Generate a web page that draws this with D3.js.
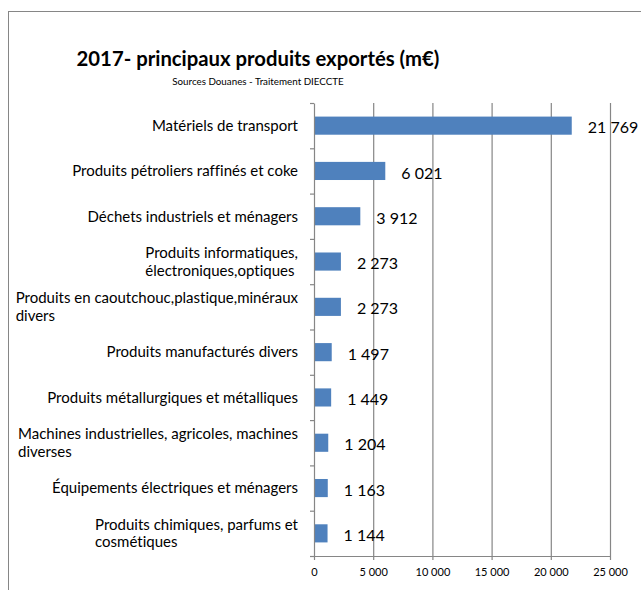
<!DOCTYPE html>
<html>
<head>
<meta charset="utf-8">
<script src="https://cdn.jsdelivr.net/npm/d3@7"></script>
<style>
  body { margin: 0; background: #fff; }
  text { font-family: Lato, "Open Sans", sans-serif; fill: #000; font-variant-ligatures: none; }
</style>
</head>
<body>
<script>
// categories (line breaks as in the original chart)
const categories = [
  "Matériels de transport",
  "Produits pétroliers raffinés et coke",
  "Déchets industriels et ménagers",
  "Produits informatiques,\nélectroniques,optiques",
  "Produits en caoutchouc,plastique,minéraux\ndivers",
  "Produits manufacturés divers",
  "Produits métallurgiques et métalliques",
  "Machines industrielles, agricoles, machines\ndiverses",
  "Équipements électriques et ménagers",
  "Produits chimiques, parfums et\ncosmétiques"
];
// exports in m€
const values = [21769, 6021, 3912, 2273, 2273, 1497, 1449, 1204, 1163, 1144];
const xTicks = [0, 5000, 10000, 15000, 20000, 25000];

const title = "2017- principaux produits exportés (m€)";
const subtitle = "Sources Douanes - Traitement DIECCTE";

const data = categories.map((c, i) => ({name: c, value: values[i]}));

// french number format: 21 769
const fr = d3.formatLocale({decimal: ",", thousands: " ", grouping: [3], currency: ["", " €"]});
const fmt = fr.format(",d");

const W = 641, H = 590;
const plot = {left: 314, right: 610, top: 103, bottom: 556};
const gray = "#868686";

const svg = d3.select("body").append("svg")
    .attr("width", W)
    .attr("height", H);

// chart border (cropped on the right and bottom)
svg.append("rect")
    .attr("x", 8.5).attr("y", 11.5)
    .attr("width", 700).attr("height", 700)
    .attr("fill", "none")
    .attr("stroke", gray);

svg.append("text")
    .attr("x", 258).attr("y", 66)
    .attr("text-anchor", "middle")
    .style("font-size", "20.3px")
    .style("font-weight", "bold")
    .text(title);

svg.append("text")
    .attr("x", 258).attr("y", 85)
    .attr("text-anchor", "middle")
    .style("font-size", "9.8px")
    .text(subtitle);

// scales
const x = d3.scaleLinear()
    .domain([0, 25000])
    .range([plot.left, plot.right]);

const y = d3.scaleBand()
    .domain(categories)
    .range([plot.top, plot.bottom])
    .paddingInner(0.6)
    .paddingOuter(0.3);

// vertical gridlines
svg.append("g")
    .attr("transform", "translate(0," + plot.bottom + ")")
    .call(d3.axisBottom(x).tickValues(xTicks.slice(1)).tickSize(-(plot.bottom - plot.top)).tickFormat(""))
    .call(g => g.select(".domain").remove())
    .call(g => g.selectAll("line").attr("stroke", gray).attr("stroke-width", 1.2));

// bars
svg.selectAll(".bar")
    .data(data)
  .enter().append("rect")
    .attr("class", "bar")
    .attr("x", x(0))
    .attr("y", d => y(d.name))
    .attr("width", d => x(d.value) - x(0))
    .attr("height", y.bandwidth())
    .attr("fill", "#4f81bd");

// value labels
svg.selectAll(".val")
    .data(data)
  .enter().append("text")
    .attr("class", "val")
    .attr("x", d => x(d.value) + 16)
    .attr("y", d => y(d.name) + y.bandwidth() / 2 + 2)
    .attr("dy", "0.35em")
    .style("font-size", "16px")
    .text(d => fmt(d.value));

// x axis
svg.append("g")
    .attr("transform", "translate(0," + plot.bottom + ")")
    .call(d3.axisBottom(x).tickValues(xTicks).tickSize(4).tickSizeOuter(0).tickFormat(fmt).tickPadding(8))
    .call(g => g.select(".domain").attr("stroke", gray).attr("stroke-width", 1.2))
    .call(g => g.selectAll("line").attr("stroke", gray).attr("stroke-width", 1.2))
    .call(g => g.selectAll("text").style("font-size", "11px").attr("font-family", null));

// y axis: ticks on category boundaries
const yb = d3.scaleLinear().domain([0, categories.length]).range([plot.top, plot.bottom]);
svg.append("g")
    .attr("transform", "translate(" + plot.left + ",0)")
    .call(d3.axisLeft(yb).ticks(categories.length).tickSize(4).tickSizeOuter(0).tickFormat(""))
    .call(g => g.select(".domain").attr("stroke", gray).attr("stroke-width", 1.2))
    .call(g => g.selectAll("line").attr("stroke", gray).attr("stroke-width", 1.2));

// category labels, block right aligned, lines left aligned
const lineH = 17.5;
const labelRight = plot.left - 16;
data.forEach(d => {
  const lines = d.name.split("\n");
  const t = svg.append("text").style("font-size", "15px");
  const cy = y(d.name) + y.bandwidth() / 2;
  lines.forEach((ln, i) => {
    t.append("tspan")
      .attr("y", cy + (i - (lines.length - 1) / 2) * lineH)
      .attr("dy", "0.35em")
      .text(ln);
  });
  const wmax = d3.max(t.selectAll("tspan").nodes(), n => n.getComputedTextLength());
  t.selectAll("tspan").attr("x", labelRight - wmax);
});
</script>
</body>
</html>
